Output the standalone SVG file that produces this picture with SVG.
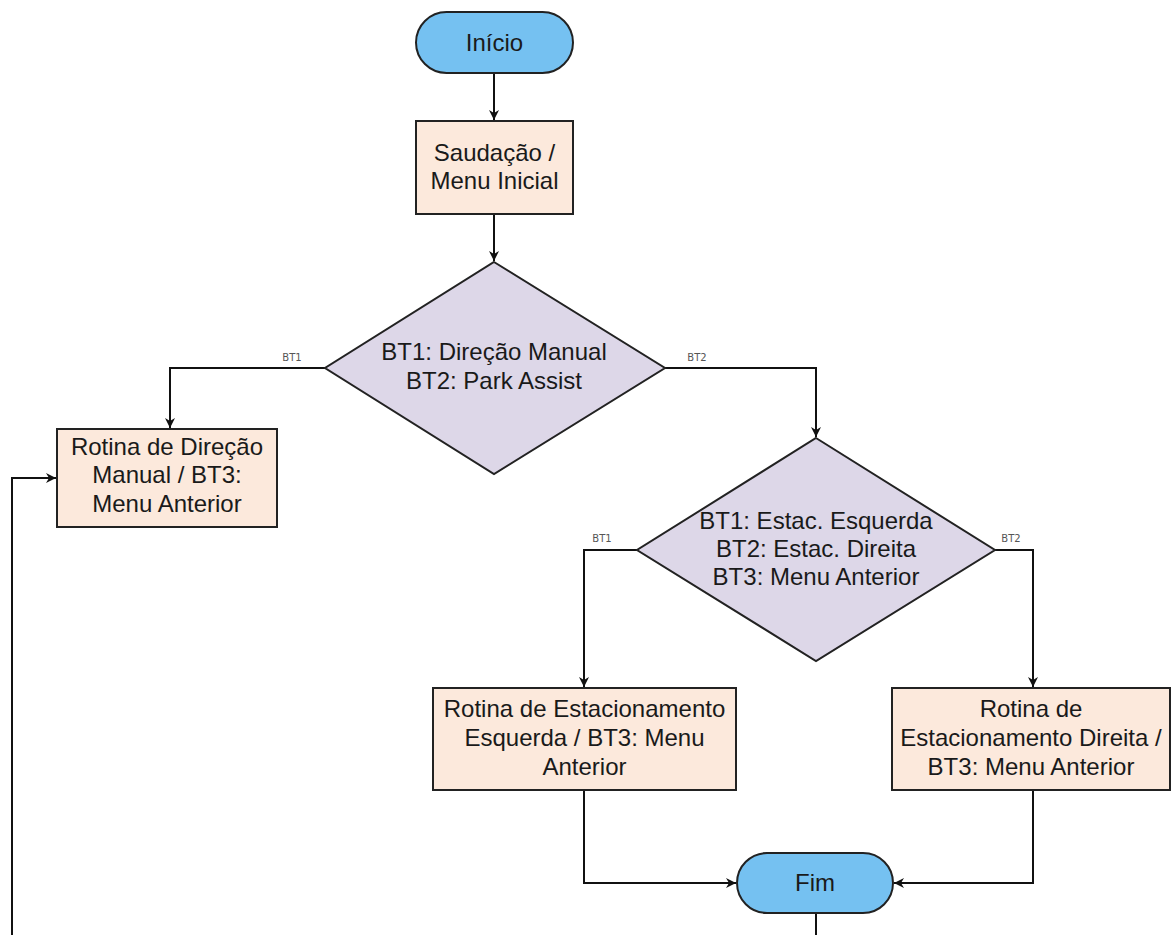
<svg xmlns="http://www.w3.org/2000/svg" width="1171" height="935" viewBox="0 0 1171 935">
<defs>
<marker id="arr" viewBox="0 0 10 10" refX="10" refY="5" markerWidth="10" markerHeight="10" markerUnits="userSpaceOnUse" orient="auto">
<path d="M0,0 L10,5 L0,10 L3,5 Z" fill="#111"/>
</marker>
<style>
.term{fill:#75C1F1;stroke:#222;stroke-width:2}
.proc{fill:#FCE9DC;stroke:#222;stroke-width:2}
.dec{fill:#DDD7E8;stroke:#222;stroke-width:2}
.t{font-family:"Liberation Sans",Arial,sans-serif;font-size:24px;fill:#1a1a1a;text-anchor:middle}
.lbl{font-family:"DejaVu Sans","Liberation Sans",sans-serif;font-size:10px;fill:#555;text-anchor:middle}
.c{fill:none;stroke:#111;stroke-width:2}
</style>
</defs>
<rect width="1171" height="935" fill="#fff"/>
<g id="connectors">
<path class="c" d="M494,73 V120" marker-end="url(#arr)"/>
<path class="c" d="M494,214 V261" marker-end="url(#arr)"/>
<path class="c" d="M325,368 H170 V428" marker-end="url(#arr)"/>
<path class="c" d="M665,368 H816 V437" marker-end="url(#arr)"/>
<path class="c" d="M637,550 H584 V687" marker-end="url(#arr)"/>
<path class="c" d="M995,550 H1033 V687" marker-end="url(#arr)"/>
<path class="c" d="M584,790 V883 H736" marker-end="url(#arr)"/>
<path class="c" d="M1033,790 V883 H894" marker-end="url(#arr)"/>
<path class="c" d="M816,913 V935"/>
<path class="c" d="M12,935 V478 H56" marker-end="url(#arr)"/>
<text class="lbl" x="292" y="361">BT1</text>
<text class="lbl" x="697" y="361">BT2</text>
<text class="lbl" x="602" y="542">BT1</text>
<text class="lbl" x="1011" y="542">BT2</text>
</g>
<g id="inicio">
<rect class="term" x="416" y="12" width="157" height="61" rx="30.5"/>
<text class="t" x="494.5" y="51">Início</text>
</g>
<g id="saudacao">
<rect class="proc" x="416" y="121" width="157" height="93"/>
<text class="t" x="494.5" y="161">Saudação /</text>
<text class="t" x="494.5" y="189">Menu Inicial</text>
</g>
<g id="decisao1">
<polygon class="dec" points="494,262 665,368 494,474 325,368"/>
<text class="t" x="494" y="360">BT1: Direção Manual</text>
<text class="t" x="494" y="389">BT2: Park Assist</text>
</g>
<g id="direcao-manual">
<rect class="proc" x="57" y="429" width="220" height="98"/>
<text class="t" x="167" y="455">Rotina de Direção</text>
<text class="t" x="167" y="483">Manual / BT3:</text>
<text class="t" x="167" y="512">Menu Anterior</text>
</g>
<g id="decisao2">
<polygon class="dec" points="816,438 995,550 816,661 637,550"/>
<text class="t" x="816" y="529">BT1: Estac. Esquerda</text>
<text class="t" x="816" y="557">BT2: Estac. Direita</text>
<text class="t" x="816" y="585">BT3: Menu Anterior</text>
</g>
<g id="estac-esquerda">
<rect class="proc" x="433" y="688" width="303" height="102"/>
<text class="t" x="584.5" y="717">Rotina de Estacionamento</text>
<text class="t" x="584.5" y="746">Esquerda / BT3: Menu</text>
<text class="t" x="584.5" y="775">Anterior</text>
</g>
<g id="estac-direita">
<rect class="proc" x="892" y="688" width="278" height="102"/>
<text class="t" x="1031" y="717">Rotina de</text>
<text class="t" x="1031" y="746">Estacionamento Direita /</text>
<text class="t" x="1031" y="775">BT3: Menu Anterior</text>
</g>
<g id="fim">
<rect class="term" x="737" y="853" width="156" height="60" rx="30"/>
<text class="t" x="815" y="891">Fim</text>
</g>
</svg>
